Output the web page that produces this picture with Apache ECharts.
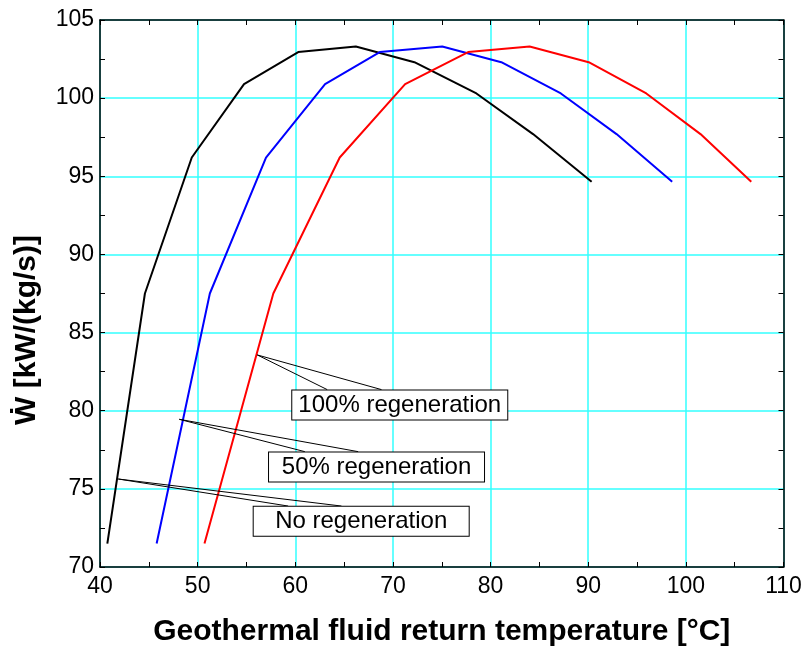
<!DOCTYPE html>
<html>
<head>
<meta charset="utf-8">
<script src="https://cdn.jsdelivr.net/npm/echarts@6/dist/echarts.min.js"></script>
<style>
  html, body { margin: 0; padding: 0; background: #fff; }
  #myChart { width: 806px; height: 651px; }
</style>
</head>
<body>
<div id="myChart"></div>
<script>
// specific power output (shared by the three curves)
const wValues = [71.5, 87.5, 96.2, 100.9, 102.95, 103.3, 102.3, 100.3, 97.7, 94.65]
// return temperature for each configuration
const tempNoRegen = [40.75, 44.6, 49.4, 54.75, 60.3, 66.2, 72.2, 78.55, 84.35, 90.35]
const tempHalfRegen = [45.8, 51.25, 57.0, 63.05, 68.65, 75.05, 81.1, 87.2, 92.9, 98.6]
const tempFullRegen = [50.7, 57.75, 64.55, 71.25, 77.7, 84.0, 90.05, 95.95, 101.5, 106.7]

const xTicks = { min: 40, max: 110, interval: 10 }
const yTicks = { min: 70, max: 105, interval: 5 }

// annotation: [label, pointed-at point, leader end 1, leader end 2, box centre]
const notes = {
    full: ['100% regeneration', [56.1, 83.57], [63.27, 81.35], [68.83, 81.35], [70.7, 80.37]],
    half: ['50% regeneration', [48.12, 79.45], [60.98, 77.38], [66.44, 77.38], [68.32, 76.4]],
    none: ['No regeneration', [41.87, 75.63], [59.27, 73.9], [64.73, 73.9], [66.75, 72.93]]
}

const font = 'Arial, "Liberation Sans", "DejaVu Sans", sans-serif'

function pairs(xs, ys) {
    return xs.map((x, i) => [x, ys[i]])
}

function noteMarks(n) {
    return {
        markLine: {
            silent: true,
            symbol: ['none', 'none'],
            label: { show: false },
            lineStyle: { color: '#000', width: 1, type: 'solid' },
            data: [
                [{ coord: n[1] }, { coord: n[2] }],
                [{ coord: n[1] }, { coord: n[3] }]
            ]
        },
        markPoint: {
            silent: true,
            symbol: 'rect',
            symbolSize: 1,
            itemStyle: { color: 'rgba(0,0,0,0)' },
            label: {
                show: true,
                position: 'inside',
                formatter: n[0],
                color: '#000',
                fontFamily: font,
                fontSize: 24,
                backgroundColor: '#fff',
                borderColor: '#000',
                borderWidth: 1,
                width: 215,
                height: 29,
                lineHeight: 29,
                align: 'center',
                verticalAlign: 'middle'
            },
            data: [{ coord: n[4] }]
        }
    }
}

function lineSeries(name, color, xs, note) {
    return Object.assign({
        name: name,
        type: 'line',
        xAxisIndex: 0,
        yAxisIndex: 0,
        data: pairs(xs, wValues),
        showSymbol: false,
        symbol: 'none',
        lineStyle: { color: color, width: 2 },
        z: 3
    }, noteMarks(note))
}

const tickStyle = {
    axisLine: { show: true, onZero: false, lineStyle: { color: '#000', width: 1.5 } },
    axisTick: { show: true, inside: true, length: 5, lineStyle: { color: '#000', width: 1 } },
    minorTick: { show: true, splitNumber: 2, length: 5, lineStyle: { color: '#000', width: 1 } }
}

let myChart = echarts.init(document.getElementById('myChart'))
let option = {
    animation: false,
    grid: { left: 100, right: 22.5, top: 20, bottom: 84, containLabel: false, outerBoundsMode: 'none' },
    // y axis title sits lower than the plot centre in the original
    graphic: [{
        type: 'text',
        x: 27,
        y: 330,
        rotation: Math.PI / 2,
        style: {
            text: 'Ẇ [kW/(kg/s)]',
            fill: '#000',
            font: 'bold 30px ' + font,
            textAlign: 'center',
            textVerticalAlign: 'middle'
        }
    }],
    xAxis: [
        Object.assign({
            type: 'value',
            min: xTicks.min, max: xTicks.max, interval: xTicks.interval,
            name: 'Geothermal fluid return temperature [°C]',
            nameLocation: 'middle',
            nameGap: 50,
            nameTextStyle: { fontFamily: font, fontSize: 30, fontWeight: 'bold', color: '#000' },
            axisLabel: { fontFamily: font, fontSize: 23, color: '#000', margin: 8 },
            splitLine: { show: true, lineStyle: { color: '#33ffff', width: 1.5 } }
        }, tickStyle),
        Object.assign({
            type: 'value', position: 'top',
            min: xTicks.min, max: xTicks.max, interval: xTicks.interval,
            axisLabel: { show: false },
            splitLine: { show: false }
        }, tickStyle)
    ],
    yAxis: [
        Object.assign({
            type: 'value',
            min: yTicks.min, max: yTicks.max, interval: yTicks.interval,
            axisLabel: { fontFamily: font, fontSize: 23, color: '#000', margin: 6 },
            splitLine: { show: true, lineStyle: { color: '#33ffff', width: 1.5 } }
        }, tickStyle),
        Object.assign({
            type: 'value', position: 'right',
            min: yTicks.min, max: yTicks.max, interval: yTicks.interval,
            axisLabel: { show: false },
            splitLine: { show: false }
        }, tickStyle)
    ],
    series: [
        lineSeries('No regeneration', '#000000', tempNoRegen, notes.none),
        lineSeries('50% regeneration', '#0000ff', tempHalfRegen, notes.half),
        lineSeries('100% regeneration', '#ff0000', tempFullRegen, notes.full)
    ]
}
myChart.setOption(option)
</script>
</body>
</html>
